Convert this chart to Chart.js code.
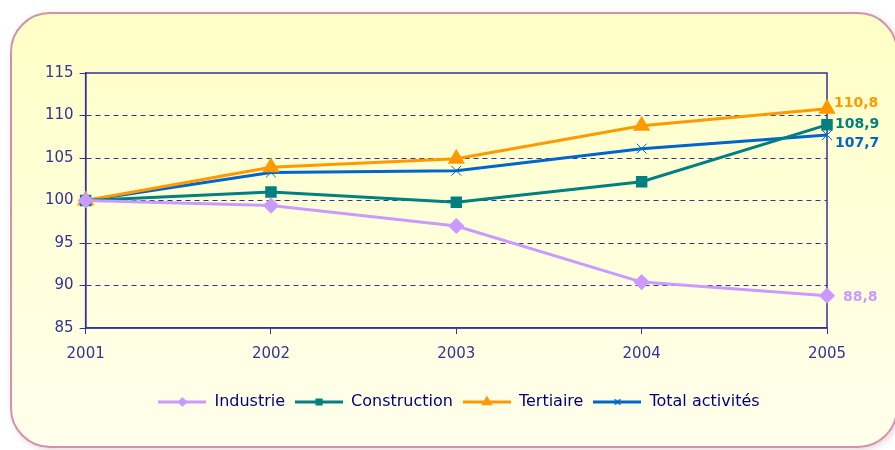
<!DOCTYPE html>
<html>
<head>
<meta charset="utf-8">
<script src="https://cdn.jsdelivr.net/npm/chart.js@4.4.0/dist/chart.umd.min.js"></script>
<style>
  html, body { margin: 0; padding: 0; background: #fff; }
  #wrap { position: relative; width: 895px; height: 450px; overflow: hidden; }
  #card {
    position: absolute; left: 10px; top: 12px; width: 888px; height: 436px;
    box-sizing: border-box; border: 2px solid #d292a8; border-radius: 40px;
    background: linear-gradient(#ffffc6, #ffffec);
    box-shadow: 2px 2px 6px rgba(200, 150, 170, 0.4);
  }
  #myChart { position: absolute; left: 0; top: 0; }
</style>
</head>
<body>
<div id="wrap">
  <div id="card"></div>
  <canvas id="myChart" width="895" height="450"></canvas>
</div>
<script>
const years = ["2001", "2002", "2003", "2004", "2005"];
const industrie = [100, 99.4, 97, 90.4, 88.8];
const construction = [100, 101, 99.8, 102.2, 108.9];
const tertiaire = [100, 103.9, 104.9, 108.8, 110.8];
const total = [100, 103.3, 103.5, 106.1, 107.7];

const navy = "#333399";
const fontFam = "'DejaVu Sans', Verdana, sans-serif";
const ctx = document.getElementById("myChart").getContext("2d");

// small line + marker picture used as the legend symbol
function legendIcon(color, style, size) {
  const c = document.createElement("canvas");
  c.width = 48;
  c.height = 14;
  const g = c.getContext("2d");
  g.strokeStyle = color;
  g.fillStyle = color;
  g.lineWidth = 3;
  g.beginPath();
  g.moveTo(0, 7);
  g.lineTo(48, 7);
  g.stroke();
  g.lineWidth = 1.5;
  Chart.helpers.drawPoint(g, { pointStyle: style, radius: size, rotation: 0, borderWidth: 1.5 }, 24, 7);
  return c;
}

// value of 2005 written at the right of each line
const lastLabels = {
  id: "lastLabels",
  afterDatasetsDraw(chart) {
    const g = chart.ctx;
    g.save();
    g.font = "bold 14px " + fontFam;
    g.textBaseline = "middle";
    const offs = [[16, 2], [8, 0], [7, -5], [8, 8]];
    chart.data.datasets.forEach((ds, i) => {
      const pts = chart.getDatasetMeta(i).data;
      const p = pts[pts.length - 1];
      const v = ds.data[ds.data.length - 1];
      g.fillStyle = ds.borderColor;
      g.fillText(v.toFixed(1).replace(".", ","), p.x + offs[i][0], p.y + offs[i][1]);
    });
    g.restore();
  },
};

const frame = {
  id: "frame",
  afterLayout(chart) {
    // legend sits a bit right of the plot centre
    chart.legend.left += 26;
    chart.legend.right += 26;
  },
  beforeDatasetsDraw(chart) {
    const a = chart.chartArea;
    const g = chart.ctx;
    g.save();
    g.strokeStyle = navy;
    g.lineWidth = 1.5;
    g.strokeRect(a.left, a.top, a.right - a.left, a.bottom - a.top);
    g.restore();
  },
};

const myChart = new Chart(ctx, {
  type: "line",
  data: {
    labels: years,
    datasets: [
      {
        label: "Industrie",
        data: industrie,
        borderColor: "#cc99ff",
        backgroundColor: "#cc99ff",
        pointStyle: "rectRot",
        pointRadius: 6,
        borderWidth: 3,
      },
      {
        label: "Construction",
        data: construction,
        borderColor: "#008080",
        backgroundColor: "#008080",
        pointStyle: "rect",
        pointRadius: 6,
        borderWidth: 3,
      },
      {
        label: "Tertiaire",
        data: tertiaire,
        borderColor: "#ff9900",
        backgroundColor: "#ff9900",
        pointStyle: "triangle",
        pointRadius: 7,
        borderWidth: 3,
      },
      {
        label: "Total activités",
        data: total,
        borderColor: "#0066cc",
        backgroundColor: "#0066cc",
        pointStyle: "crossRot",
        pointRadius: 7,
        pointBorderWidth: 1,
        borderWidth: 3,
      },
    ],
  },
  options: {
    responsive: false,
    animation: false,
    layout: { padding: { left: 39, right: 68, top: 73, bottom: 30 } },
    font: { family: fontFam },
    scales: {
      x: {
        offset: false,
        afterFit: (s) => { s.height += 10; },
        grid: { drawOnChartArea: false, tickColor: navy, tickLength: 6 },
        border: { color: navy, width: 1.5 },
        ticks: { color: navy, font: { size: 15, family: fontFam }, padding: 11, maxRotation: 0 },
      },
      y: {
        min: 85,
        max: 115,
        grid: {
          color: (c) => (c.tick.value === 85 || c.tick.value === 115 ? "rgba(0,0,0,0)" : navy),
          tickColor: navy,
          tickLength: 6,
        },
        border: { color: navy, width: 1.5, dash: [5, 4] },
        ticks: { color: navy, font: { size: 15, family: fontFam }, stepSize: 5, padding: 6 },
      },
    },
    plugins: {
      tooltip: { enabled: false },
      legend: {
        position: "bottom",
        labels: {
          color: "#000080",
          font: { size: 16, family: fontFam },
          usePointStyle: true,
          pointStyleWidth: 48,
          padding: 10,
          generateLabels(chart) {
            return chart.data.datasets.map((ds, i) => ({
              text: ds.label,
              pointStyle: legendIcon(ds.borderColor, ds.pointStyle, ds.pointStyle === "triangle" ? 5 : 4),
              fontColor: "#000080",
              datasetIndex: i,
              lineWidth: 0,
            }));
          },
        },
      },
    },
  },
  plugins: [frame, lastLabels],
});
</script>
</body>
</html>
